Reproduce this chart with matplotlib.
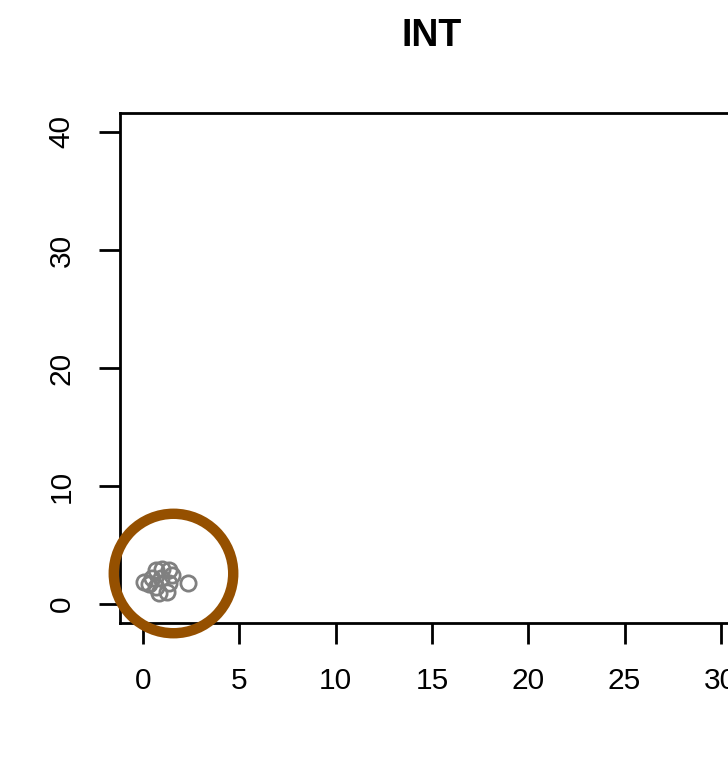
import matplotlib
matplotlib.use("Agg")
import matplotlib.pyplot as plt

# Data
x_vals = [0.05, 0.31, 0.66, 1.00, 1.35, 0.92, 0.66, 0.83, 1.26, 1.35, 1.52, 0.48, 2.32]
y_vals = [1.90, 1.67, 2.88, 3.00, 2.88, 2.18, 1.47, 0.90, 1.04, 1.75, 2.46, 2.18, 1.75]
highlight_x = [1.56]
highlight_y = [2.63]
x_ticks = [0, 5, 10, 15, 20, 25, 30]
y_ticks = [0, 10, 20, 30, 40]
title = "INT"

W, H = 728, 775
fig = plt.figure(figsize=(W / 100, H / 100), dpi=100)
plt.rcParams['font.family'] = ['Liberation Sans', 'DejaVu Sans']

left, right, bottom, top = 120, 744, 623, 113
ax = fig.add_axes([left / W, 1 - bottom / H, (right - left) / W, (bottom - top) / H])
ax.set_xlim(-1.2, 31.2)
ax.set_ylim(-1.6, 41.6)

ax.plot(x_vals, y_vals, linestyle='none', marker='o', markersize=11,
        markerfacecolor='none', markeredgecolor='#808080', markeredgewidth=2.0)
ax.plot(highlight_x, highlight_y, linestyle='none', marker='o', markersize=86,
        markerfacecolor='none', markeredgecolor='#955000', markeredgewidth=7.5,
        clip_on=False, zorder=5)

for s in ['top', 'right', 'bottom', 'left']:
    ax.spines[s].set_linewidth(2.0)
ax.set_xticks(x_ticks)
ax.set_yticks(y_ticks)
ax.tick_params(axis='both', length=15, width=2.0, labelsize=21.5, pad=17)
for lab in ax.get_yticklabels():
    lab.set_rotation(90)
    lab.set_va('center')

fig.text(432 / W, 1 - 36 / H, title, ha='center', va='center',
         fontsize=27, fontweight='bold')

fig.savefig('out.png', dpi=100)
